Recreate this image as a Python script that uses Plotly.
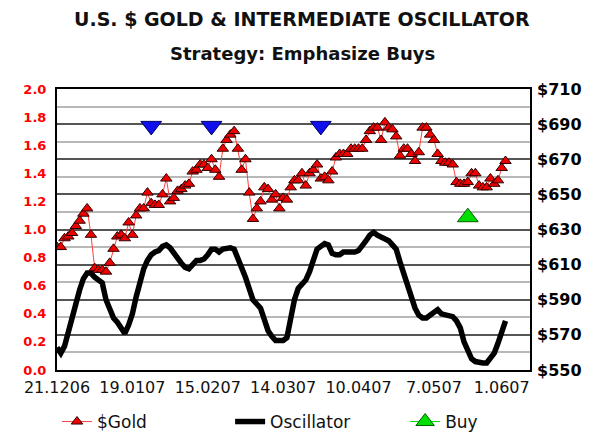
import plotly.graph_objects as go

# %% data (one point per trading day)
tick_days = [0, 20, 40, 60, 80, 100, 118]
tick_labels = ['21.1206', '19.0107', '15.0207', '14.0307', '10.0407', '7.0507', '1.0607']

gold = [620, 620, 625, 626, 628, 632, 635, 639, 642, 627,
        608, 607, 607, 606, 611, 619, 626, 627, 625, 634,
        627, 638, 642, 642, 651, 645, 644, 644, 650, 659,
        646, 648, 652, 653, 655, 656, 663, 664, 667, 667,
        665, 670, 664, 660, 676, 681, 684, 686, 676, 664,
        670, 651, 636, 642, 646, 654, 653, 647, 650, 642,
        648, 647, 654, 658, 658, 662, 655, 662, 664, 667,
        659, 660, 658, 663, 671, 673, 673, 673, 676, 676,
        676, 676, 681, 686, 688, 688, 681, 691, 688, 687,
        683, 672, 676, 676, 673, 669, 674, 688, 688, 684,
        681, 673, 669, 668, 668, 667, 657, 656, 656, 657,
        662, 662, 655, 654, 654, 659, 656, 658, 665, 669]

oscillator = [0.16, 0.12, 0.17, 0.26, 0.36, 0.47, 0.57, 0.65, 0.69, 0.69,
              0.66, 0.64, 0.62, 0.50, 0.42, 0.37, 0.34, 0.29, 0.26, 0.32,
              0.40, 0.52, 0.62, 0.72, 0.78, 0.82, 0.84, 0.85, 0.88, 0.89,
              0.87, 0.83, 0.79, 0.76, 0.73, 0.72, 0.75, 0.78, 0.78, 0.79,
              0.82, 0.86, 0.86, 0.84, 0.86, 0.87, 0.87, 0.86, 0.80, 0.72,
              0.66, 0.58, 0.50, 0.47, 0.44, 0.36, 0.28, 0.24, 0.21, 0.21,
              0.21, 0.23, 0.38, 0.50, 0.58, 0.61, 0.64, 0.70, 0.78, 0.86,
              0.88, 0.90, 0.89, 0.83, 0.82, 0.82, 0.84, 0.84, 0.84, 0.84,
              0.85, 0.88, 0.92, 0.96, 0.98, 0.96, 0.95, 0.93, 0.92, 0.89,
              0.86, 0.77, 0.68, 0.60, 0.52, 0.44, 0.39, 0.37, 0.37, 0.39,
              0.41, 0.43, 0.40, 0.39, 0.39, 0.38, 0.35, 0.30, 0.20, 0.13,
              0.08, 0.06, 0.05, 0.05, 0.05, 0.08, 0.12, 0.19, 0.27, 0.35]

days = list(range(len(gold)))

sell_days = [25, 41, 70]
sell_prices = [689, 689, 689]
buy_days = [109]
buy_prices = [637]

FONT = 'DejaVu Sans'

fig = go.Figure()

# oscillator on the left axis
fig.add_trace(go.Scatter(
    x=days, y=oscillator,
    mode='lines',
    line=dict(color='black', width=5.5),
    name='Oscillator',
    legend='legend2',
    yaxis='y'
))

# gold price on the right axis
fig.add_trace(go.Scatter(
    x=days, y=gold,
    mode='lines+markers',
    line=dict(color='#ff4040', width=1),
    marker=dict(symbol='triangle-up', size=10, color='#ee0000',
                line=dict(color='#300000', width=1)),
    name='$Gold',
    legend='legend',
    yaxis='y2'
))

# sell signals (not in legend)
fig.add_trace(go.Scatter(
    x=sell_days, y=sell_prices,
    mode='markers',
    marker=dict(symbol='triangle-down', size=18, color='#1010ee',
                line=dict(color='#000060', width=1)),
    showlegend=False,
    yaxis='y2'
))

# buy signal
fig.add_trace(go.Scatter(
    x=buy_days, y=buy_prices,
    mode='lines+markers',
    line=dict(color='#00dd00', width=1),
    marker=dict(symbol='triangle-up', size=18, color='#00dd00',
                line=dict(color='#006000', width=1)),
    name='Buy',
    legend='legend3',
    yaxis='y2'
))

legend_style = dict(
    orientation='h', y=-0.185, xanchor='left', yanchor='middle',
    font=dict(size=17, color='#111111'),
    bgcolor='rgba(0,0,0,0)',
)

fig.update_layout(
    width=600, height=448,
    margin=dict(l=57, r=70, t=89, b=78, autoexpand=False),
    paper_bgcolor='white',
    plot_bgcolor='white',
    font=dict(family=FONT, color='black'),
    xaxis=dict(
        range=[0, 125.5],
        tickvals=tick_days, ticktext=tick_labels,
        showgrid=False, zeroline=False,
        showline=True, mirror=True, linecolor='black', linewidth=2,
        ticks='', ticklabelstandoff=2, tickangle=0,
        tickfont=dict(size=16, color='#111111'),
    ),
    yaxis=dict(
        range=[0, 2.0], dtick=0.2, tickformat='.1f',
        showgrid=False, zeroline=False,
        showline=True, mirror=True, linecolor='black', linewidth=2,
        ticks='', ticklabelstandoff=6,
        tickfont=dict(size=13, color='#ff0000', weight='bold'),
    ),
    yaxis2=dict(
        overlaying='y', side='right',
        range=[550, 710], tick0=550, dtick=20, tickprefix='$',
        showgrid=True, gridcolor='#555555', gridwidth=2,
        minor=dict(tick0=550, dtick=10, showgrid=True, gridcolor='#b8b8b8', gridwidth=2),
        zeroline=False, showline=False,
        ticks='', ticklabelstandoff=6,
        tickfont=dict(size=16, color='black', weight='bold'),
    ),
    legend=dict(x=0.0, **legend_style),
    legend2=dict(x=0.366, **legend_style),
    legend3=dict(x=0.736, **legend_style),
    showlegend=True,
)

# title and subtitle
fig.add_annotation(
    text='<b>U.S. $ GOLD &amp; INTERMEDIATE OSCILLATOR</b>',
    xref='paper', yref='paper', x=0.518, y=1.248,
    xanchor='center', yanchor='middle', showarrow=False,
    font=dict(size=19, color='#111111', family=FONT)
)
fig.add_annotation(
    text='<b>Strategy: Emphasize Buys</b>',
    xref='paper', yref='paper', x=0.518, y=1.128,
    xanchor='center', yanchor='middle', showarrow=False,
    font=dict(size=18, color='#111111', family=FONT)
)

# drop the page's default body margin so the figure sits at the window corner
fig.write_html('out.html', config={'displayModeBar': False},
               post_script="document.body.style.margin='0';")
